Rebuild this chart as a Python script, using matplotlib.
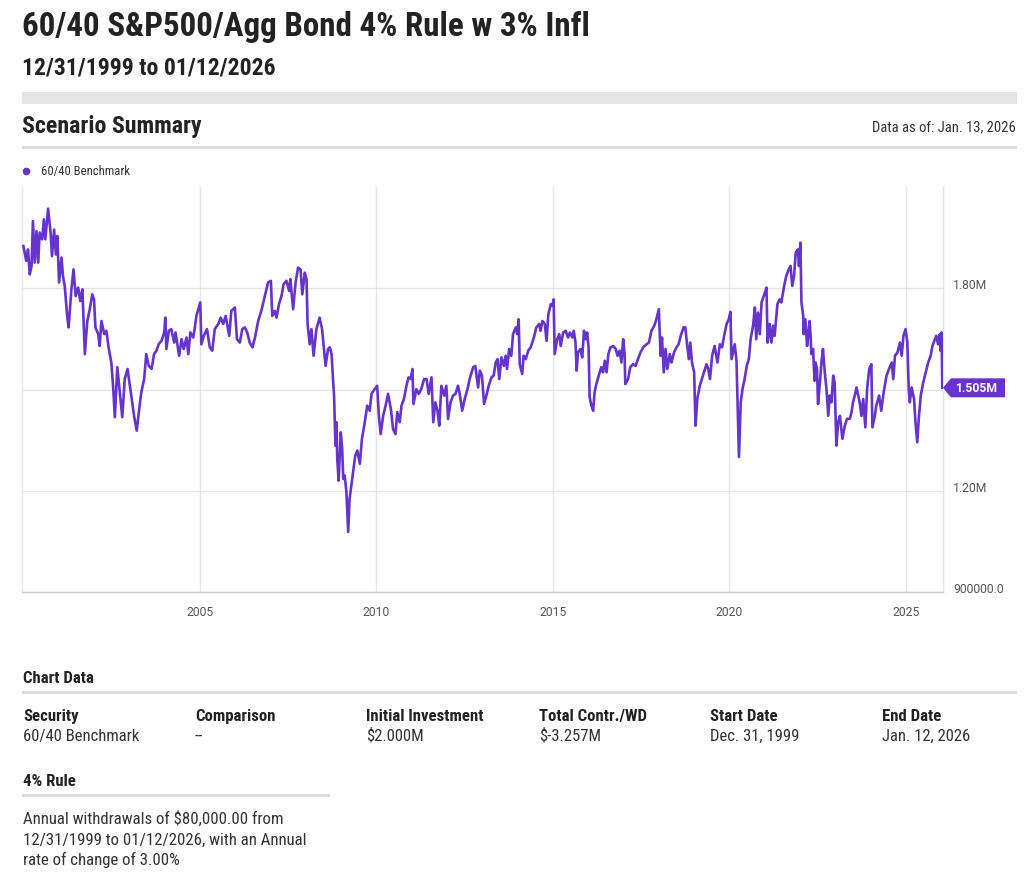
import matplotlib
matplotlib.use("Agg")
import matplotlib.pyplot as plt
from matplotlib import font_manager as fm
from matplotlib.patches import Rectangle, Polygon
from matplotlib.lines import Line2D
from matplotlib.transforms import IdentityTransform

# ---------------- data ----------------
series_name = "60/40 Benchmark"
x_ticks = [2005, 2010, 2015, 2020, 2025]
y_ticks = [900000, 1200000, 1500000, 1800000]
y_tick_labels = ["900000.0", "1.20M", "", "1.80M"]

dates = [
    2000.00, 2000.08, 2000.13, 2000.18, 2000.23, 2000.27, 2000.32, 2000.37, 2000.42, 2000.46,
    2000.53, 2000.58, 2000.62, 2000.70, 2000.77, 2000.81, 2000.87, 2000.92, 2000.96, 2001.01,
    2001.08, 2001.12, 2001.17, 2001.24, 2001.28, 2001.36, 2001.42, 2001.48, 2001.55, 2001.61,
    2001.67, 2001.74, 2001.81, 2001.88, 2001.95, 2002.00, 2002.04, 2002.12, 2002.16, 2002.21,
    2002.29, 2002.35, 2002.42, 2002.49, 2002.54, 2002.59, 2002.66, 2002.73, 2002.80, 2002.87,
    2002.95, 2003.01, 2003.08, 2003.14, 2003.21, 2003.27, 2003.34, 2003.42, 2003.48, 2003.55,
    2003.63, 2003.70, 2003.77, 2003.83, 2003.91, 2003.99, 2004.02, 2004.05, 2004.12, 2004.19,
    2004.27, 2004.31, 2004.41, 2004.48, 2004.54, 2004.62, 2004.67, 2004.73, 2004.81, 2004.85,
    2004.90, 2005.01, 2005.04, 2005.11, 2005.20, 2005.28, 2005.35, 2005.42, 2005.52, 2005.59,
    2005.66, 2005.73, 2005.83, 2005.89, 2005.99, 2006.05, 2006.13, 2006.20, 2006.27, 2006.34,
    2006.41, 2006.49, 2006.56, 2006.65, 2006.74, 2006.84, 2006.93, 2007.01, 2007.05, 2007.12,
    2007.17, 2007.24, 2007.31, 2007.37, 2007.45, 2007.53, 2007.56, 2007.64, 2007.71, 2007.78,
    2007.85, 2007.90, 2007.97, 2008.02, 2008.05, 2008.11, 2008.16, 2008.22, 2008.30, 2008.39,
    2008.46, 2008.56, 2008.63, 2008.68, 2008.73, 2008.77, 2008.80, 2008.84, 2008.87, 2008.89,
    2008.93, 2008.99, 2009.03, 2009.06, 2009.10, 2009.15, 2009.20, 2009.24, 2009.29, 2009.34,
    2009.40, 2009.46, 2009.53, 2009.59, 2009.67, 2009.74, 2009.81, 2009.86, 2009.95, 2010.02,
    2010.07, 2010.12, 2010.19, 2010.26, 2010.33, 2010.41, 2010.47, 2010.54, 2010.59, 2010.66,
    2010.71, 2010.78, 2010.85, 2010.91, 2010.97, 2011.02, 2011.05, 2011.13, 2011.20, 2011.27,
    2011.35, 2011.42, 2011.48, 2011.56, 2011.61, 2011.67, 2011.73, 2011.78, 2011.84, 2011.92,
    2011.98, 2012.03, 2012.10, 2012.17, 2012.24, 2012.31, 2012.36, 2012.43, 2012.50, 2012.58,
    2012.64, 2012.74, 2012.80, 2012.88, 2012.93, 2012.99, 2013.05, 2013.12, 2013.18, 2013.26,
    2013.32, 2013.38, 2013.43, 2013.48, 2013.54, 2013.61, 2013.66, 2013.70, 2013.76, 2013.82,
    2013.87, 2013.95, 2013.99, 2014.03, 2014.06, 2014.13, 2014.17, 2014.23, 2014.30, 2014.37,
    2014.46, 2014.53, 2014.61, 2014.65, 2014.70, 2014.77, 2014.82, 2014.87, 2014.94, 2014.98,
    2015.02, 2015.05, 2015.12, 2015.18, 2015.22, 2015.29, 2015.36, 2015.43, 2015.48, 2015.55,
    2015.59, 2015.64, 2015.67, 2015.71, 2015.78, 2015.83, 2015.88, 2015.93, 2015.97, 2016.01,
    2016.04, 2016.09, 2016.14, 2016.18, 2016.23, 2016.31, 2016.37, 2016.42, 2016.47, 2016.52,
    2016.57, 2016.63, 2016.71, 2016.78, 2016.83, 2016.89, 2016.94, 2016.99, 2017.03, 2017.05,
    2017.13, 2017.19, 2017.27, 2017.34, 2017.41, 2017.48, 2017.56, 2017.65, 2017.72, 2017.79,
    2017.87, 2017.93, 2018.00, 2018.05, 2018.09, 2018.14, 2018.19, 2018.24, 2018.31, 2018.36,
    2018.43, 2018.50, 2018.56, 2018.62, 2018.70, 2018.75, 2018.80, 2018.85, 2018.89, 2018.94,
    2019.00, 2019.04, 2019.09, 2019.16, 2019.25, 2019.35, 2019.40, 2019.45, 2019.51, 2019.58,
    2019.66, 2019.73, 2019.79, 2019.85, 2019.92, 2019.98, 2020.03, 2020.06, 2020.10, 2020.15,
    2020.20, 2020.25, 2020.27, 2020.32, 2020.37, 2020.43, 2020.49, 2020.55, 2020.60, 2020.67,
    2020.72, 2020.76, 2020.81, 2020.86, 2020.91, 2020.99, 2021.05, 2021.08, 2021.14, 2021.19,
    2021.24, 2021.28, 2021.36, 2021.42, 2021.47, 2021.55, 2021.61, 2021.68, 2021.73, 2021.78,
    2021.83, 2021.88, 2021.94, 2021.97, 2022.01, 2022.04, 2022.09, 2022.10, 2022.15, 2022.20,
    2022.24, 2022.27, 2022.30, 2022.32, 2022.37, 2022.41, 2022.44, 2022.48, 2022.51, 2022.56,
    2022.61, 2022.65, 2022.70, 2022.75, 2022.80, 2022.84, 2022.89, 2022.94, 2022.98, 2023.03,
    2023.08, 2023.13, 2023.20, 2023.27, 2023.33, 2023.41, 2023.46, 2023.50, 2023.55, 2023.60,
    2023.65, 2023.69, 2023.74, 2023.79, 2023.85, 2023.90, 2023.96, 2024.02, 2024.05, 2024.12,
    2024.16, 2024.24, 2024.30, 2024.37, 2024.45, 2024.52, 2024.60, 2024.64, 2024.69, 2024.76,
    2024.83, 2024.88, 2024.93, 2024.99, 2025.04, 2025.08, 2025.11, 2025.16, 2025.23, 2025.27,
    2025.32, 2025.37, 2025.42, 2025.49, 2025.56, 2025.63, 2025.70, 2025.75, 2025.82, 2025.86,
    2025.91, 2025.96, 2025.98, 2026.01, 2026.03,
]

# portfolio value, in thousands of dollars
values_k = [
    1925, 1881, 1915, 1841, 1866, 1999, 1876, 1969, 1876, 1965,
    1945, 2004, 1945, 2036, 1965, 1895, 1974, 1900, 1955, 1817,
    1891, 1836, 1807, 1718, 1684, 1797, 1856, 1777, 1802, 1762,
    1797, 1605, 1703, 1738, 1782, 1767, 1684, 1664, 1629, 1703,
    1664, 1674, 1620, 1580, 1511, 1418, 1566, 1492, 1418, 1531,
    1561, 1516, 1462, 1418, 1378, 1433, 1492, 1531, 1605, 1570,
    1561, 1605, 1615, 1634, 1644, 1669, 1713, 1620, 1674, 1679,
    1639, 1669, 1600, 1649, 1620, 1654, 1605, 1669, 1654, 1679,
    1718, 1758, 1634, 1659, 1679, 1625, 1615, 1679, 1694, 1713,
    1694, 1718, 1659, 1733, 1743, 1649, 1639, 1679, 1684, 1669,
    1639, 1625, 1654, 1703, 1733, 1777, 1817, 1822, 1718, 1733,
    1713, 1753, 1777, 1812, 1822, 1792, 1827, 1738, 1817, 1861,
    1856, 1782, 1846, 1827, 1694, 1634, 1679, 1600, 1679, 1713,
    1679, 1570, 1620, 1625, 1605, 1531, 1482, 1334, 1403, 1295,
    1230, 1373, 1324, 1235, 1245, 1196, 1078, 1176, 1216, 1255,
    1304, 1319, 1280, 1354, 1403, 1452, 1437, 1487, 1501, 1511,
    1422, 1368, 1422, 1452, 1487, 1442, 1383, 1368, 1433, 1403,
    1452, 1472, 1511, 1536, 1531, 1561, 1457, 1501, 1487, 1501,
    1531, 1531, 1487, 1536, 1403, 1462, 1437, 1393, 1511, 1482,
    1511, 1413, 1462, 1482, 1487, 1511, 1487, 1437, 1472, 1501,
    1531, 1566, 1570, 1506, 1556, 1541, 1457, 1484, 1511, 1536,
    1541, 1580, 1590, 1531, 1595, 1570, 1600, 1561, 1620, 1600,
    1664, 1684, 1664, 1708, 1575, 1546, 1600, 1590, 1615, 1625,
    1654, 1684, 1694, 1674, 1703, 1694, 1644, 1723, 1753, 1748,
    1767, 1605, 1649, 1664, 1629, 1669, 1674, 1654, 1669, 1654,
    1674, 1639, 1556, 1610, 1620, 1595, 1674, 1649, 1669, 1625,
    1477, 1452, 1437, 1492, 1516, 1546, 1566, 1551, 1585, 1551,
    1605, 1625, 1629, 1620, 1600, 1615, 1580, 1649, 1605, 1516,
    1531, 1566, 1575, 1570, 1590, 1610, 1625, 1634, 1639, 1674,
    1689, 1708, 1738, 1600, 1654, 1551, 1620, 1561, 1605, 1580,
    1610, 1625, 1634, 1659, 1684, 1684, 1634, 1590, 1639, 1580,
    1551, 1393, 1472, 1511, 1541, 1575, 1561, 1531, 1600, 1629,
    1580, 1634, 1625, 1659, 1694, 1708, 1730, 1590, 1610, 1634,
    1585, 1383, 1300, 1462, 1501, 1531, 1570, 1590, 1649, 1689,
    1743, 1649, 1728, 1664, 1758, 1782, 1802, 1639, 1694, 1639,
    1689, 1659, 1753, 1767, 1758, 1807, 1836, 1856, 1866, 1807,
    1836, 1906, 1915, 1866, 1935, 1758, 1718, 1664, 1708, 1629,
    1669, 1703, 1659, 1605, 1620, 1526, 1580, 1561, 1457, 1516,
    1585, 1620, 1551, 1501, 1422, 1482, 1462, 1541, 1521, 1334,
    1403, 1422, 1354, 1393, 1413, 1413, 1433, 1462, 1482, 1506,
    1482, 1462, 1422, 1472, 1388, 1501, 1561, 1575, 1388, 1422,
    1452, 1482, 1437, 1492, 1541, 1561, 1580, 1531, 1600, 1610,
    1639, 1600, 1659, 1679, 1639, 1501, 1462, 1506, 1472, 1403,
    1344, 1422, 1482, 1521, 1551, 1580, 1600, 1629, 1649, 1659,
    1634, 1664, 1615, 1669, 1505,
]
values = [v * 1000 for v in values_k]

title = "60/40 S&P500/Agg Bond 4% Rule w 3% Infl"
subtitle = "12/31/1999 to 01/12/2026"
section_title = "Scenario Summary"
data_as_of = "Data as of: Jan. 13, 2026"
table_headers = ["Security", "Comparison", "Initial Investment", "Total Contr./WD", "Start Date", "End Date"]
table_values = ["60/40 Benchmark", "--", "$2.000M", "$-3.257M", "Dec. 31, 1999", "Jan. 12, 2026"]
rule_lines = ["Annual withdrawals of $80,000.00 from",
              "12/31/1999 to 01/12/2026, with an Annual",
              "rate of change of 3.00%"]

# ---------------- styling ----------------
PURPLE = "#6633CC"
W, H = 1024, 878
avail = {f.name for f in fm.fontManager.ttflist}
FONT = "Roboto Condensed" if "Roboto Condensed" in avail else ("Roboto" if "Roboto" in avail else "DejaVu Sans")
TICK_FONT = "Roboto" if "Roboto" in avail else FONT
plt.rcParams["font.family"] = [FONT, "DejaVu Sans"]

fig = plt.figure(figsize=(W / 100, H / 100), dpi=100)
fig.patch.set_facecolor("white")
renderer = fig.canvas.get_renderer()


def put(text, x, y, width=None, size=10, ha="left", weight="normal", color="#222222"):
    t = fig.text(x / W, 1 - y / H, text, ha=ha, va="baseline", fontsize=size,
                 fontweight=weight, color=color, parse_math=False)
    if width is not None:
        w = t.get_window_extent(renderer).width
        t.set_fontsize(size * width / w)
    return t


def fitted_size(text, width, weight="normal", family=None):
    t = fig.text(0, 0, text, fontsize=10, fontweight=weight, parse_math=False)
    if family:
        t.set_family(family)
    w = t.get_window_extent(renderer).width
    t.remove()
    return 10 * width / w


def hbar(x0, x1, y0, y1, color):
    fig.add_artist(Rectangle((x0, H - y1), x1 - x0, y1 - y0, transform=IdentityTransform(),
                             facecolor=color, edgecolor="none"))


# header texts
put(title, 22, 36, width=568, weight="bold", color="#222222")
put(subtitle, 22, 75, width=253, weight="bold", color="#222222")
hbar(22, 1017, 92.7, 105.3, "#e4e4e4")
put(section_title, 22, 133, width=179, weight="bold", color="#222222")
put(data_as_of, 1016, 131, width=142, ha="right", color="#333333")
hbar(22, 1017, 147, 149.5, "#dcdcdc")

# legend
fig.add_artist(Line2D([26 / W], [1 - 171.5 / H], marker="o", markersize=4.5, color=PURPLE,
                      linestyle="none", transform=fig.transFigure))
put(series_name, 41, 175, width=88, color="#333333")

# ---------------- chart ----------------
ax = fig.add_axes([22 / W, 1 - 593 / H, (943 - 22) / W, (593 - 188) / H])
ax.plot(dates, values, color=PURPLE, linewidth=1.9, solid_joinstyle="round", zorder=3)
ax.set_xlim(1999.96, 2026.05)
ax.set_ylim(900000, 2100000)

ax.set_xticks(x_ticks)
ax.set_xticklabels([str(t) for t in x_ticks])
ax.set_yticks(y_ticks)
ax.set_yticklabels(y_tick_labels)
ax.grid(True, color="#e6e6e6", linewidth=1.0, zorder=0)
ax.set_axisbelow(True)
ax.spines["top"].set_visible(False)
for side in ["left", "right"]:
    ax.spines[side].set_color("#e6e6e6")
    ax.spines[side].set_linewidth(1.0)
ax.spines["bottom"].set_color("#cccccc")
ax.spines["bottom"].set_linewidth(1.0)

tick_size = fitted_size("1.80M", 34, family=TICK_FONT)
ax.yaxis.tick_right()
ax.tick_params(axis="y", length=0, pad=7.2, labelsize=tick_size, labelcolor="#555555")
ax.tick_params(axis="x", length=0, pad=9.5, labelsize=tick_size, labelcolor="#555555")
for lab in ax.get_yticklabels() + ax.get_xticklabels():
    lab.set_family(TICK_FONT)
for lab in ax.get_yticklabels():
    lab.set_verticalalignment("baseline")
    lab.set_horizontalalignment("left")

# last-value flag
fig.canvas.draw()
last_val = values[-1]
xr = ax.bbox.x1
yc = ax.transData.transform((dates[-1], last_val))[1]
flag = Polygon([(xr, yc), (xr + 8, yc + 9.5), (xr + 62, yc + 9.5), (xr + 62, yc - 9.5), (xr + 8, yc - 9.5)],
               closed=True, transform=IdentityTransform(), facecolor=PURPLE, edgecolor="none")
fig.add_artist(flag)
flag_text = f"{last_val / 1e6:.3f}M"
flag_size = fitted_size(flag_text, 42, weight="bold", family=TICK_FONT)
fig.text((xr + 33) / W, yc / H, flag_text, ha="center", va="center", color="white",
         fontsize=flag_size, fontweight="bold", family=TICK_FONT, parse_math=False)

# ---------------- chart data section ----------------
put("Chart Data", 23, 683, width=70, weight="bold", color="#222222")
hbar(22, 1017, 692, 694.5, "#dcdcdc")
col_x = [23, 195, 366, 539, 710, 882]
hdr_size = fitted_size("Initial Investment", 117, weight="bold")
val_size = fitted_size("60/40 Benchmark", 116)
for cx, h_txt, v_txt in zip(col_x, table_headers, table_values):
    put(h_txt, cx, 721, size=hdr_size, weight="bold", color="#222222")
    put(v_txt, cx, 741, size=val_size, color="#333333")

put("4% Rule", 23, 786, size=hdr_size, weight="bold", color="#222222")
hbar(22, 330, 795, 797.5, "#dcdcdc")
para_size = fitted_size(rule_lines[1], 281)
for yb, line in zip([824, 845, 865], rule_lines):
    put(line, 23, yb, size=para_size, color="#333333")

fig.savefig("out.png", dpi=100, facecolor="white")
